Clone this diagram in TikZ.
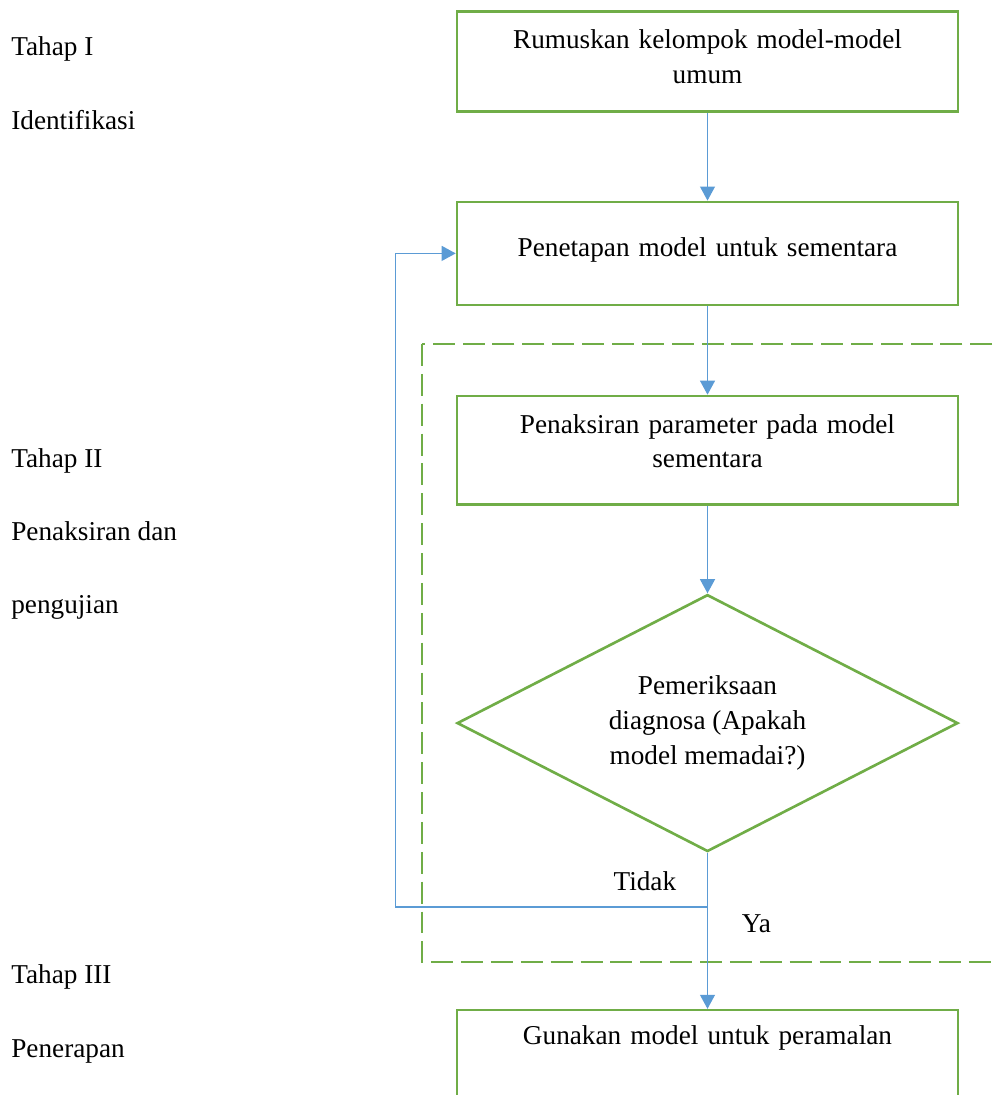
\documentclass[tikz,border=0pt]{standalone}
\usepackage{fontspec}
\setmainfont{Liberation Serif}
\usepackage{tikz}
\usetikzlibrary{shapes.geometric, arrows.meta, positioning}
\definecolor{boxgreen}{HTML}{70AD47}
\definecolor{lineblue}{HTML}{5B9BD5}
\tikzstyle{stepbox} = [rectangle, minimum width=10.02cm, text width=9cm, align=center, inner ysep=0pt, draw=boxgreen, line width=1.5pt, font=\fontsize{15.5}{19.9}\selectfont]
\tikzstyle{decision} = [diamond, aspect=1.95, minimum width=10.02cm, minimum height=5.14cm, inner sep=0pt, align=center, draw=boxgreen, line width=1.5pt, font=\fontsize{15.5}{19.9}\selectfont]
\tikzstyle{stage} = [anchor=base west, inner sep=0pt, font=\fontsize{15.5}{19.9}\selectfont]
\tikzstyle{arrow} = [draw=lineblue, line width=0.75pt, -{Triangle[length=8pt,width=8.5pt]}]
\tikzstyle{groupbox} = [draw=boxgreen, line width=1.5pt, dash pattern=on 12.5pt off 4.5pt]

\begin{document}
\begin{tikzpicture}[x=0.02cm, y=-0.02cm]
        \useasboundingbox (0,0) rectangle (992,1095);
        \clip (0,0) rectangle (992,1095);

        \node (tahap1) [stage] at (11,56) {Tahap I};
        \node (ident) [stage] at (11,130) {Identifikasi};
        \node (tahap2) [stage] at (11,467) {Tahap II};
        \node (uji1) [stage] at (11,540) {Penaksiran dan};
        \node (uji2) [stage] at (11,613) {pengujian};
        \node (tahap3) [stage] at (11,983) {Tahap III};
        \node (terap) [stage] at (11,1057) {Penerapan};

        \draw [groupbox] (422,344) rectangle (1030,962);

        \node (rumus) [stepbox, text height=0.74cm, text depth=1.27cm, anchor=north] at (707.5,10) {Rumuskan kelompok model-model\\ umum};
        \node (tetap) [stepbox, text height=1.1cm, text depth=0.96cm, below=1.75cm of rumus] {Penetapan model untuk sementara};
        \node (taksir) [stepbox, text height=0.74cm, text depth=1.43cm, below=1.77cm of tetap] {Penaksiran parameter pada model\\ sementara};
        \node (periksa) [decision, below=1.75cm of taksir] {Pemeriksaan\\ diagnosa (Apakah\\ model memadai?)};
        \node (guna) [stepbox, text height=0.68cm, text depth=1.5cm, below=3.12cm of periksa] {Gunakan model untuk peramalan};
        \coordinate [below=1.08cm of periksa.south] (cabang);
        \node (tidak) [stage, anchor=base east] at ([xshift=-0.62cm, yshift=0.32cm]cabang) {Tidak};
        \node (ya) [stage] at ([xshift=0.68cm, yshift=-0.52cm]cabang) {Ya};

        \draw [arrow] (rumus) -- (tetap);
        \draw [arrow] (tetap) -- (taksir);
        \draw [arrow] (taksir) -- (periksa);
        \draw [arrow] (periksa) -- (guna);
        \draw [arrow] (cabang) -- ++(-312,0) |- (tetap.west);
    \end{tikzpicture}
\end{document}
